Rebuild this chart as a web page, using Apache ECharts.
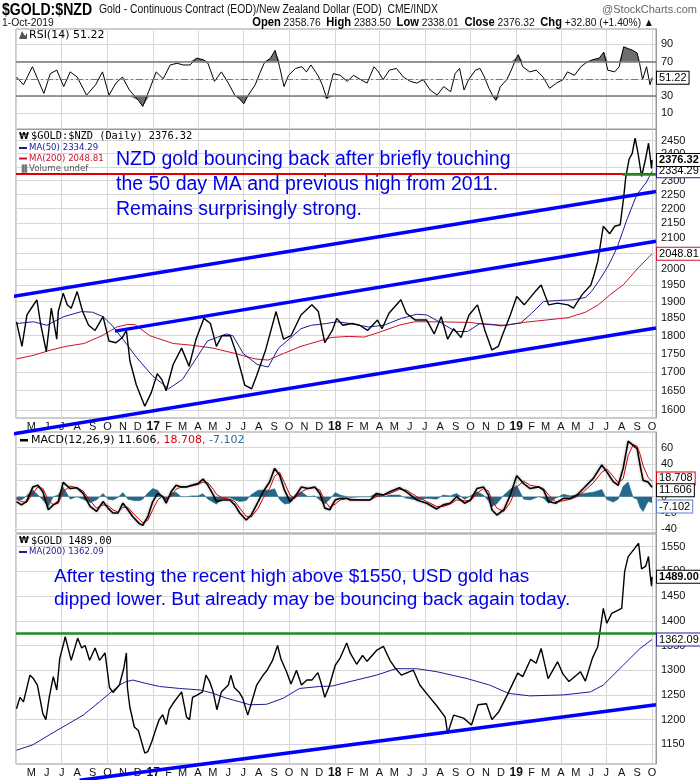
<!DOCTYPE html>
<html><head><meta charset="utf-8">
<script src="https://cdn.jsdelivr.net/npm/echarts@6/dist/echarts.min.js"></script>
<style>html,body{margin:0;padding:0;background:#fff}#c{width:700px;height:780px}</style>
</head><body><div id="c"></div>
<script>
// ---------------- DATA ----------------
const rsiValues = [['2016-04-01',52],['2016-04-15',43],['2016-05-03',64],['2016-05-26',33],['2016-06-08',56],['2016-06-21',60],['2016-07-05',41],['2016-07-18',58],['2016-08-01',52],['2016-08-20',31],['2016-09-07',43],['2016-09-21',58],['2016-10-04',31],['2016-10-18',45],['2016-10-31',52],['2016-11-14',37],['2016-12-02',25],['2016-12-11',18],['2016-12-24',37],['2017-01-07',58],['2017-01-21',50],['2017-02-04',66],['2017-02-18',68],['2017-03-02',66],['2017-03-16',66],['2017-03-29',74],['2017-04-12',72],['2017-04-21',68],['2017-05-04',47],['2017-05-18',58],['2017-06-01',45],['2017-06-14',31],['2017-06-23',27],['2017-07-02',21],['2017-07-11',31],['2017-07-25',43],['2017-08-03',56],['2017-08-12',68],['2017-08-25',74],['2017-09-03',83],['2017-09-12',64],['2017-09-21',41],['2017-09-30',54],['2017-10-14',62],['2017-10-27',64],['2017-11-05',58],['2017-11-14',66],['2017-11-28',54],['2017-12-07',43],['2017-12-16',27],['2017-12-29',56],['2018-01-12',54],['2018-01-26',47],['2018-02-08',54],['2018-02-22',49],['2018-03-07',45],['2018-03-21',64],['2018-03-30',58],['2018-04-08',49],['2018-04-21',60],['2018-05-05',62],['2018-05-19',52],['2018-06-02',47],['2018-06-15',45],['2018-06-28',49],['2018-07-12',37],['2018-07-26',31],['2018-08-08',41],['2018-08-22',35],['2018-08-31',56],['2018-09-09',62],['2018-09-18',37],['2018-09-27',49],['2018-10-11',60],['2018-10-20',62],['2018-10-29',52],['2018-11-07',39],['2018-11-16',29],['2018-11-21',25],['2018-11-30',41],['2018-12-13',49],['2018-12-22',60],['2019-01-01',74],['2019-01-05',78],['2019-01-14',64],['2019-01-28',58],['2019-02-10',60],['2019-02-24',52],['2019-03-09',39],['2019-03-23',45],['2019-04-05',49],['2019-04-14',58],['2019-04-28',54],['2019-05-11',64],['2019-05-20',68],['2019-06-03',72],['2019-06-17',74],['2019-06-26',81],['2019-07-04',60],['2019-07-18',58],['2019-07-27',64],['2019-08-05',87],['2019-08-14',85],['2019-08-23',83],['2019-09-01',80],['2019-09-06',68],['2019-09-12',49],['2019-09-20',64],['2019-09-27',43],['2019-10-01',51.22]];

const nzdGold = [['2016-04-01',1840],['2016-04-12',1770],['2016-04-22',1860],['2016-05-03',1885],['2016-05-12',1905],['2016-05-20',1830],['2016-05-31',1755],['2016-06-10',1880],['2016-06-21',1790],['2016-06-24',1870],['2016-07-04',1925],['2016-07-12',1890],['2016-07-20',1880],['2016-08-01',1930],['2016-08-12',1870],['2016-08-24',1830],['2016-09-06',1815],['2016-09-22',1855],['2016-10-04',1785],['2016-10-18',1780],['2016-10-31',1795],['2016-11-08',1815],['2016-11-15',1730],['2016-11-28',1665],['2016-12-15',1610],['2016-12-28',1645],['2017-01-09',1695],['2017-01-18',1680],['2017-01-27',1650],['2017-02-10',1720],['2017-02-27',1765],['2017-03-14',1715],['2017-03-28',1790],['2017-04-13',1850],['2017-04-26',1835],['2017-05-08',1770],['2017-05-19',1800],['2017-06-05',1800],['2017-06-16',1755],['2017-07-04',1665],['2017-07-18',1655],['2017-07-28',1690],['2017-08-15',1760],['2017-09-05',1870],['2017-09-20',1790],['2017-10-05',1800],['2017-10-25',1860],['2017-11-16',1890],['2017-11-29',1870],['2017-12-12',1780],['2017-12-27',1815],['2018-01-05',1850],['2018-01-17',1830],['2018-02-05',1835],['2018-02-20',1830],['2018-03-08',1815],['2018-03-28',1845],['2018-04-06',1820],['2018-04-20',1865],['2018-05-14',1905],['2018-05-25',1865],['2018-06-12',1845],['2018-07-05',1845],['2018-07-20',1805],['2018-08-03',1855],['2018-08-16',1790],['2018-08-28',1820],['2018-09-12',1795],['2018-09-28',1860],['2018-10-15',1890],['2018-10-30',1815],['2018-11-13',1760],['2018-11-26',1770],['2018-12-05',1805],['2018-12-20',1860],['2019-01-02',1915],['2019-01-17',1890],['2019-02-08',1930],['2019-02-20',1950],['2019-03-07',1890],['2019-03-25',1895],['2019-04-15',1890],['2019-04-26',1880],['2019-05-13',1920],['2019-05-31',1950],['2019-06-07',1985],['2019-06-14',2025],['2019-06-25',2140],['2019-07-08',2115],['2019-07-18',2140],['2019-07-29',2145],['2019-08-05',2240],['2019-08-09',2310],['2019-08-16',2380],['2019-08-22',2400],['2019-08-28',2460],['2019-09-03',2400],['2019-09-10',2315],['2019-09-18',2380],['2019-09-24',2440],['2019-09-30',2345],['2019-10-01',2376.32]];

const nzdMA50 = [['2016-04-01',1835],['2016-05-05',1840],['2016-06-01',1830],['2016-07-05',1855],['2016-08-10',1870],['2016-09-01',1868],['2016-09-22',1855],['2016-10-10',1830],['2016-11-01',1790],['2016-11-28',1740],['2016-12-30',1690],['2017-02-01',1655],['2017-03-01',1680],['2017-03-30',1740],['2017-04-20',1785],['2017-05-28',1805],['2017-06-10',1800],['2017-07-01',1750],['2017-07-29',1720],['2017-08-20',1713],['2017-09-10',1765],['2017-10-01',1790],['2017-10-25',1820],['2017-11-15',1830],['2017-12-15',1835],['2018-01-05',1840],['2018-02-01',1835],['2018-03-10',1825],['2018-04-10',1830],['2018-05-15',1850],['2018-06-15',1862],['2018-07-05',1860],['2018-07-30',1840],['2018-09-01',1812],['2018-09-25',1812],['2018-10-20',1835],['2018-11-15',1832],['2018-12-01',1828],['2018-12-20',1832],['2019-01-10',1837],['2019-02-01',1865],['2019-02-25',1900],['2019-03-25',1903],['2019-04-25',1905],['2019-05-20',1912],['2019-06-01',1930],['2019-06-15',1960],['2019-07-05',2010],['2019-07-23',2070],['2019-08-11',2160],['2019-08-31',2248],['2019-09-20',2295],['2019-10-01',2334.29]];

const nzdMA200 = [['2016-04-01',1735],['2016-05-05',1745],['2016-06-10',1760],['2016-07-10',1770],['2016-08-15',1778],['2016-09-20',1800],['2016-10-20',1825],['2016-11-10',1832],['2016-11-25',1832],['2016-12-25',1800],['2017-02-10',1778],['2017-03-20',1773],['2017-05-01',1765],['2017-06-15',1750],['2017-07-25',1735],['2017-08-20',1732],['2017-09-20',1750],['2017-10-25',1770],['2017-12-01',1785],['2017-12-25',1795],['2018-01-30',1798],['2018-03-01',1796],['2018-04-01',1810],['2018-05-10',1830],['2018-06-10',1840],['2018-08-01',1840],['2018-10-01',1838],['2018-11-01',1832],['2018-12-10',1830],['2019-01-15',1838],['2019-03-01',1845],['2019-04-15',1852],['2019-05-20',1868],['2019-06-15',1890],['2019-07-10',1922],['2019-08-05',1952],['2019-09-01',2000],['2019-10-01',2048.81]];

// [date, MACD line, signal line]
const macdTable = [['2016-04-01',-6,-3],['2016-04-11',-10,-6],['2016-04-21',-6,-7],['2016-05-04',12,4],['2016-05-14',14,12],['2016-05-24',6,10],['2016-06-04',-16,-4],['2016-06-14',-10,-10],['2016-06-24',-6,-8],['2016-07-04',17.5,6],['2016-07-18',10,13],['2016-07-31',11,11],['2016-08-13',4,7],['2016-08-27',-12,-5],['2016-09-09',-18,-14],['2016-09-22',-6,-10],['2016-10-02',-14,-11],['2016-10-12',-20,-16],['2016-10-22',-20,-19],['2016-11-01',-8,-13],['2016-11-11',-16,-13],['2016-11-21',-24.5,-20],['2016-12-04',-33,-28],['2016-12-11',-35,-32],['2016-12-21',-24.5,-29],['2016-12-31',-6,-16],['2017-01-10',4,-4],['2017-01-20',0,1],['2017-01-27',-8,-3],['2017-02-06',6,1],['2017-02-16',14,9],['2017-02-26',12,12],['2017-03-09',12,12],['2017-03-19',14,13],['2017-04-01',16,15],['2017-04-11',21.6,18],['2017-04-21',14,17],['2017-05-02',2,9],['2017-05-08',-6,3],['2017-05-21',-4,-2],['2017-06-04',-4,-3],['2017-06-14',-10,-6],['2017-06-24',-20,-14],['2017-07-07',-28.6,-24],['2017-07-17',-22.5,-25],['2017-07-31',-6,-14],['2017-08-10',6,-2],['2017-08-23',18,10],['2017-09-02',34.7,25],['2017-09-12',26.5,30],['2017-09-22',8,17],['2017-10-03',-6,2],['2017-10-13',0,-2],['2017-10-26',12,6],['2017-11-08',10,10],['2017-11-22',12,11],['2017-12-02',4,8],['2017-12-12',-14,-5],['2017-12-22',-16,-13],['2018-01-02',-4,-9],['2018-01-12',-2,-4],['2018-01-25',-2,-2],['2018-02-01',-4,-3],['2018-02-21',-4,-4],['2018-03-13',-4,-4],['2018-03-26',4,0],['2018-04-09',2,2],['2018-04-22',6,4],['2018-05-11',11,9],['2018-05-25',6,8],['2018-06-15',-4,0],['2018-07-05',-8,-6],['2018-07-25',-15,-12],['2018-08-07',-10,-12],['2018-08-21',-8,-9],['2018-09-03',0,-4],['2018-09-19',-8,-5],['2018-10-01',-4,-5],['2018-10-14',10,4],['2018-10-27',12,10],['2018-11-06',2,7],['2018-11-13',-16,-4],['2018-11-23',-22.5,-14],['2018-12-07',-16,-18],['2018-12-20',2,-7],['2019-01-02',25.7,12],['2019-01-16',16,19],['2019-01-29',10,14],['2019-02-15',12,12],['2019-02-25',8,10],['2019-03-07',-6,2],['2019-03-21',-8,-6],['2019-04-06',-2,-5],['2019-04-20',-2,-3],['2019-05-03',2,0],['2019-05-16',10,6],['2019-06-05',22.5,17],['2019-06-22',38.8,30],['2019-07-02',30.6,34],['2019-07-15',18.4,25],['2019-07-25',14,17],['2019-08-04',34.7,22],['2019-08-14',68,50],['2019-08-24',63,64],['2019-09-01',59,62],['2019-09-07',38.8,52],['2019-09-13',20,38],['2019-09-23',18,24],['2019-10-01',11.606,18.708]];

const usdGold = [['2016-04-01',1222],['2016-04-08',1245],['2016-04-15',1236],['2016-04-28',1290],['2016-05-05',1283],['2016-05-13',1270],['2016-05-24',1212],['2016-05-30',1200],['2016-06-06',1246],['2016-06-14',1287],['2016-06-21',1260],['2016-06-27',1324],['2016-07-05',1355],['2016-07-08',1368],['2016-07-20',1320],['2016-08-02',1365],['2016-08-10',1345],['2016-08-17',1350],['2016-08-26',1320],['2016-09-06',1345],['2016-09-15',1320],['2016-09-26',1335],['2016-10-05',1265],['2016-10-12',1255],['2016-10-25',1270],['2016-11-03',1305],['2016-11-08',1335],['2016-11-10',1265],['2016-11-15',1225],['2016-11-24',1185],['2016-12-02',1178],['2016-12-15',1132],['2016-12-21',1135],['2016-12-29',1155],['2017-01-06',1180],['2017-01-13',1200],['2017-01-20',1210],['2017-01-27',1190],['2017-02-02',1220],['2017-02-10',1233],['2017-02-27',1256],['2017-03-09',1205],['2017-03-15',1200],['2017-03-21',1245],['2017-03-31',1250],['2017-04-10',1256],['2017-04-17',1290],['2017-04-24',1278],['2017-05-01',1258],['2017-05-09',1220],['2017-05-18',1256],['2017-06-01',1270],['2017-06-06',1290],['2017-06-13',1265],['2017-06-23',1255],['2017-06-30',1243],['2017-07-10',1209],['2017-07-17',1232],['2017-07-28',1270],['2017-08-10',1290],['2017-08-18',1300],['2017-08-29',1320],['2017-09-08',1350],['2017-09-15',1322],['2017-09-26',1297],['2017-10-05',1272],['2017-10-16',1300],['2017-10-26',1270],['2017-11-06',1280],['2017-11-16',1280],['2017-11-28',1295],['2017-12-04',1276],['2017-12-12',1245],['2017-12-21',1268],['2018-01-02',1310],['2018-01-12',1325],['2018-01-25',1355],['2018-02-01',1335],['2018-02-14',1312],['2018-02-26',1330],['2018-03-07',1318],['2018-03-26',1340],['2018-04-09',1348],['2018-04-22',1320],['2018-05-02',1305],['2018-05-15',1290],['2018-06-08',1300],['2018-06-21',1270],['2018-07-07',1250],['2018-07-25',1228],['2018-08-11',1205],['2018-08-16',1172],['2018-08-28',1209],['2018-09-17',1203],['2018-10-03',1189],['2018-10-16',1230],['2018-11-02',1232],['2018-11-13',1200],['2018-11-27',1216],['2018-12-14',1250],['2019-01-04',1294],['2019-01-14',1287],['2019-01-30',1322],['2019-02-10',1314],['2019-02-20',1344],['2019-03-06',1283],['2019-03-25',1317],['2019-04-05',1292],['2019-04-17',1277],['2019-05-10',1297],['2019-05-20',1278],['2019-06-03',1324],['2019-06-14',1348],['2019-06-25',1425],['2019-07-02',1395],['2019-07-12',1415],['2019-07-22',1420],['2019-08-01',1425],['2019-08-07',1500],['2019-08-14',1530],['2019-08-26',1545],['2019-09-04',1557],['2019-09-10',1505],['2019-09-18',1510],['2019-09-24',1530],['2019-09-27',1495],['2019-09-30',1470],['2019-10-01',1489]];

const usdMA200 = [['2016-04-01',1138],['2016-05-04',1149],['2016-06-06',1169],['2016-07-10',1189],['2016-08-13',1209],['2016-09-15',1236],['2016-10-05',1253],['2016-10-25',1270],['2016-11-08',1277],['2016-11-21',1280],['2016-12-18',1273],['2017-01-14',1267],['2017-02-23',1263],['2017-04-05',1260],['2017-05-02',1253],['2017-05-29',1243],['2017-06-24',1236],['2017-07-14',1230],['2017-08-17',1231],['2017-09-19',1243],['2017-10-22',1263],['2017-12-01',1267],['2017-12-27',1268],['2018-02-01',1277],['2018-03-26',1290],['2018-05-04',1303],['2018-06-15',1303],['2018-07-25',1297],['2018-09-24',1283],['2018-11-08',1270],['2018-12-17',1253],['2019-01-28',1248],['2019-04-06',1250],['2019-05-30',1256],['2019-06-25',1270],['2019-08-04',1310],['2019-09-07',1344],['2019-10-01',1362.09]];

// annotation lines (endpoints as date/value)
const nzdResistance = 2324;
const nzdGreenStart = '2019-08-03';
const usdGreenLevel = 1375;
const nzdChannelTop = [['2016-02-28',1909],['2019-10-09',2261]];
const nzdChannelMid = [['2016-10-16',1813],['2019-10-09',2090]];
const nzdChannelLow = [['2016-02-28',1536],['2019-10-09',1822]];
const usdSupport   = [['2016-08-06',1077],['2019-10-09',1230]];

// tick labels
const rsiTicks = [10,30,50,70,90];
const rsiLabels = [10,30,70,90];
const nzdTicks = [1600,1650,1700,1750,1800,1850,1900,1950,2000,2050,2100,2150,2200,2250,2300,2350,2400,2450];
const macdTicks = [-40,-20,0,20,40,60];
const macdLabels = [-40,-20,0,40,60];
const usdTicks = [1150,1200,1250,1300,1350,1400,1450,1500,1550];
const monthLetters = ['J','F','M','A','M','J','J','A','S','O','N','D'];

// ---------------- helpers ----------------
const D = s => { const [y,m,d] = s.split('-').map(Number); return Date.UTC(y, m-1, d); };
const pts = arr => arr.map(([d,v]) => [D(d), v]);
const X_MIN = D('2016-03-31'), X_MAX = D('2019-10-09');
const monthTicks = [], quarterTicks = [];
for (let y = 2016; y <= 2019; y++) for (let m = 0; m < 12; m++) {
  const t = Date.UTC(y, m, 1);
  if (t < D('2016-05-01') || t > D('2019-10-01')) continue;
  monthTicks.push(t);
}
for (let y = 2016; y <= 2019; y++) for (const m of [0,3,6,9]) {
  const t = Date.UTC(y, m, 1);
  if (t > X_MIN && t <= D('2019-10-01')) quarterTicks.push(t);
}
const fmtMonth = v => { const d = new Date(v); const m = d.getUTCMonth();
  return m === 0 ? '{b|' + String(d.getUTCFullYear()).slice(2) + '}' : monthLetters[m]; };

const FONT = 'Liberation Sans, Arial, sans-serif';
const GRID_C = '#d6d6d6';
function xAx(gi, showLabels) {
  return { type:'value', gridIndex:gi, min:X_MIN, max:X_MAX, scale:true,
    axisLine:{show:false}, axisTick:{show:false, customValues:quarterTicks},
    splitLine:{show:true, lineStyle:{color:GRID_C, width:1}},
    axisLabel:{show:showLabels, customValues:monthTicks, formatter:fmtMonth, fontSize:11, color:'#111',
      margin:3, fontFamily:FONT, hideOverlap:false, showMinLabel:true, showMaxLabel:true,
      rich:{b:{fontWeight:'bold', fontSize:12, fontFamily:FONT, color:'#111'}}} };
}
function yAx(gi, type, min, max, ticks, labels) {
  const o = { type, gridIndex:gi, position:'right', min, max, scale:true,
    axisLine:{show:true, lineStyle:{color:'#999'}},
    axisTick:{show:false, customValues:ticks},
    axisLabel:{customValues:labels, fontSize:11, color:'#111', margin:5, fontFamily:FONT, formatter: v => String(Math.round(v))},
    splitLine:{show:true, lineStyle:{color:GRID_C, width:1}} };
  if (type === 'log') o.logBase = 10;
  return o;
}
const endBox = (border, dec, bold) => ({ show:true, distance:5,
  formatter: p => Number(p.value[1]).toFixed(dec),
  backgroundColor:'#fff', borderColor:border, borderWidth:1, padding:[1,2,0,2],
  fontSize:11, fontWeight: bold ? 'bold' : 'normal', color:'#000', fontFamily:FONT });
const lineS = (xi, data, color, width, extra) => Object.assign({ type:'line', xAxisIndex:xi, yAxisIndex:xi,
  data, showSymbol:false, symbol:'none', color, lineStyle:{color, width}, animation:false }, extra || {});
const trend = (xi, arr) => ({ type:'line', xAxisIndex:xi, yAxisIndex:xi, data:pts(arr), showSymbol:false, symbol:'none',
  clip:false, silent:true, z:6, lineStyle:{color:'#0000ff', width:3.5}, color:'#0000ff', animation:false });

const rsiPts = pts(rsiValues);
const macdPts = macdTable.map(r => [D(r[0]), r[1]]);
const sigPts = macdTable.map(r => [D(r[0]), r[2]]);
const histPts = macdTable.map(r => [D(r[0]), +(r[1] - r[2]).toFixed(3)]);

const NARROW = '"Liberation Sans",Arial,sans-serif';
const option = {
  animation:false,
  backgroundColor:'#fff',
  grid:[
    {left:16, right:44, top:29, height:100, show:true, borderColor:'#999', borderWidth:1},
    {left:16, right:44, top:129.5, height:288.5, show:true, borderColor:'#999', borderWidth:1},
    {left:16, right:44, top:432, height:101, show:true, borderColor:'#999', borderWidth:1},
    {left:16, right:44, top:534, height:230, show:true, borderColor:'#999', borderWidth:1}
  ],
  xAxis:[xAx(0,false), xAx(1,true), xAx(2,false), xAx(3,true)],
  yAxis:[
    yAx(0,'value',-8.2,107.7,rsiTicks,rsiLabels),
    yAx(1,'log',1580.4,2493.6,nzdTicks,nzdTicks),
    yAx(2,'value',-44.5,79.3,macdTicks,macdLabels),
    yAx(3,'value',1110.1,1575.7,usdTicks,usdTicks)
  ],
  series:[
    lineS(0, rsiPts.map(([t,v]) => [t, Math.max(v,70)]), '#6e6e6e', 0, {silent:true, areaStyle:{origin:70, color:'#6e6e6e', opacity:1}, z:1}),
    lineS(0, rsiPts.map(([t,v]) => [t, Math.min(v,30)]), '#6e6e6e', 0, {silent:true, areaStyle:{origin:30, color:'#6e6e6e', opacity:1}, z:1}),
    lineS(0, rsiPts, '#000', 1, {z:3, endLabel:endBox('#000',2,false),
      markLine:{silent:true, symbol:'none', label:{show:false}, animation:false,
        data:[{yAxis:70, lineStyle:{color:'#777', width:1.5, type:'solid'}},
              {yAxis:30, lineStyle:{color:'#777', width:1.5, type:'solid'}},
              {yAxis:50, lineStyle:{color:'#777', width:1, type:[7,3,2,3]}}]}}),
    lineS(1, pts(nzdMA200), '#d0102a', 1, {z:3, endLabel:endBox('#d0102a',2,false),
      markLine:{silent:true, symbol:'none', label:{show:false}, animation:false,
        data:[{yAxis:nzdResistance, lineStyle:{color:'#e00000', width:2, type:'solid'}},
              [{coord:[D(nzdGreenStart), nzdResistance], lineStyle:{color:'#1f8a1f', width:2.5, type:'solid'}},
               {coord:[X_MAX, nzdResistance]}]]}}),
    lineS(1, pts(nzdMA50), '#1c1c96', 1, {z:3, endLabel:endBox('#1c1c96',2,false)}),
    lineS(1, pts(nzdGold), '#000', 1.4, {z:4, endLabel:endBox('#000',2,true)}),
    trend(1, nzdChannelTop), trend(1, nzdChannelMid), trend(1, nzdChannelLow),
    lineS(2, histPts, '#236a8a', 0.6, {z:2, areaStyle:{origin:0, color:'#236a8a', opacity:1},
      endLabel:Object.assign(endBox('#5b7fc7',3,false), {offset:[0,4]})}),
    lineS(2, sigPts, '#e00000', 1, {z:3, endLabel:Object.assign(endBox('#e00000',3,false), {offset:[0,-3]})}),
    lineS(2, macdPts, '#000', 1.6, {z:4, lineStyle:{color:'#000', width:1.6, shadowColor:'rgba(0,0,0,0.35)', shadowBlur:3},
      endLabel:Object.assign(endBox('#000',3,false), {offset:[0,3]})}),
    lineS(3, pts(usdMA200), '#1c1c96', 1, {z:3, endLabel:endBox('#1c1c96',2,false),
      markLine:{silent:true, symbol:'none', label:{show:false}, animation:false,
        data:[{yAxis:usdGreenLevel, lineStyle:{color:'#1f8a1f', width:2.5, type:'solid'}}]}}),
    lineS(3, pts(usdGold), '#000', 1.4, {z:4, endLabel:endBox('#000',2,true)}),
    trend(3, usdSupport)
  ],
  graphic:[
    {type:'text', x:2, y:10, scaleX:0.83, z:100, style:{text:'$GOLD:$NZD', font:'bold 17px ' + NARROW, fill:'#000', textVerticalAlign:'middle'}},
    {type:'text', x:99, y:10, scaleX:0.86, z:100, style:{text:'Gold - Continuous Contract (EOD)/New Zealand Dollar (EOD)  CME/INDX', font:'12px ' + NARROW, fill:'#111', textVerticalAlign:'middle'}},
    {type:'text', x:697, y:10, z:100, style:{text:'@StockCharts.com', font:'11px "Liberation Sans",sans-serif', fill:'#666', textAlign:'right', textVerticalAlign:'middle'}},
    {type:'text', x:2, y:23, scaleX:0.9, z:100, style:{text:'1-Oct-2019', font:'11.5px ' + NARROW, fill:'#111', textVerticalAlign:'middle'}},
    {type:'text', x:654, y:23, scaleX:0.93, z:100, style:{text:'{b|Open} 2358.76  {b|High} 2383.50  {b|Low} 2338.01  {b|Close} 2376.32  {b|Chg} +32.80 (+1.40%) ▲',
      font:'11px ' + NARROW, fill:'#111', textAlign:'right', textVerticalAlign:'middle',
      rich:{b:{font:'bold 12px ' + NARROW, fill:'#000'}}}},
    {type:'polygon', z:100, shape:{points:[[19,39],[22,31],[25,36],[27,33],[27,39]]}, style:{fill:'#555'}},
    {type:'text', x:29, y:35, z:100, style:{text:'RSI(14) 51.22', font:'11px "DejaVu Sans",sans-serif', fill:'#000', textVerticalAlign:'middle'}},
    {type:'text', x:19, y:136.5, z:100, style:{text:'₩', font:'bold 9px "DejaVu Sans",sans-serif', fill:'#000', textVerticalAlign:'middle'}},
    {type:'text', x:31, y:136.5, z:100, style:{text:'$GOLD:$NZD (Daily) 2376.32', font:'10.3px "DejaVu Sans Mono",monospace', fill:'#000', textVerticalAlign:'middle'}},
    {type:'rect', z:100, shape:{x:19, y:147, width:8, height:2}, style:{fill:'#1c1c96'}},
    {type:'text', x:29, y:148, z:100, style:{text:'MA(50) 2334.29', font:'8.6px "DejaVu Sans",sans-serif', fill:'#1c1c96', textVerticalAlign:'middle'}},
    {type:'rect', z:100, shape:{x:19, y:157.5, width:8, height:2}, style:{fill:'#d0102a'}},
    {type:'text', x:29, y:158.5, z:100, style:{text:'MA(200) 2048.81', font:'8.6px "DejaVu Sans",sans-serif', fill:'#d0102a', textVerticalAlign:'middle'}},
    {type:'text', x:19, y:169, z:100, style:{text:'\u2590\u258c', font:'7px "DejaVu Sans",sans-serif', fill:'#777', textVerticalAlign:'middle'}},
    {type:'text', x:29, y:169, z:100, style:{text:'Volume undef', font:'8.6px "DejaVu Sans",sans-serif', fill:'#555', textVerticalAlign:'middle'}},
    {type:'rect', z:100, shape:{x:20, y:439, width:8, height:2.5}, style:{fill:'#000'}},
    {type:'text', x:31, y:440, z:100, style:{text:'MACD(12,26,9) 11.606{r|, 18.708}{t|, -7.102}', font:'11px "DejaVu Sans",sans-serif', fill:'#000', textVerticalAlign:'middle',
      rich:{r:{fill:'#e00000', font:'11px "DejaVu Sans",sans-serif'}, t:{fill:'#2a6f8f', font:'11px "DejaVu Sans",sans-serif'}}}},
    {type:'text', x:19, y:541, z:100, style:{text:'₩', font:'bold 9px "DejaVu Sans",sans-serif', fill:'#000', textVerticalAlign:'middle'}},
    {type:'text', x:31, y:541, z:100, style:{text:'$GOLD 1489.00', font:'10.3px "DejaVu Sans Mono",monospace', fill:'#000', textVerticalAlign:'middle'}},
    {type:'rect', z:100, shape:{x:19, y:551, width:8, height:2}, style:{fill:'#1c1c96'}},
    {type:'text', x:29, y:552, z:100, style:{text:'MA(200) 1362.09', font:'8.6px "DejaVu Sans",sans-serif', fill:'#1c1c96', textVerticalAlign:'middle'}},
    {type:'text', x:116, y:160, z:100, style:{text:'NZD gold bouncing back after briefly touching', font:'19.5px "Liberation Sans",Arial,sans-serif', fill:'#0000e6', textVerticalAlign:'middle'}},
    {type:'text', x:116, y:185, z:100, style:{text:'the 50 day MA and previous high from 2011.', font:'19.5px "Liberation Sans",Arial,sans-serif', fill:'#0000e6', textVerticalAlign:'middle'}},
    {type:'text', x:116, y:210, z:100, style:{text:'Remains surprisingly strong.', font:'19.5px "Liberation Sans",Arial,sans-serif', fill:'#0000e6', textVerticalAlign:'middle'}},
    {type:'text', x:54, y:577, z:100, style:{text:'After testing the recent high above $1550, USD gold has', font:'19px "Liberation Sans",Arial,sans-serif', fill:'#0000e6', textVerticalAlign:'middle'}},
    {type:'text', x:54, y:600, z:100, style:{text:'dipped lower. But already may be bouncing back again today.', font:'19px "Liberation Sans",Arial,sans-serif', fill:'#0000e6', textVerticalAlign:'middle'}}
  ]
};
const chart = echarts.init(document.getElementById('c'), null, {renderer:'canvas'});
chart.setOption(option);
</script>
</body></html>
